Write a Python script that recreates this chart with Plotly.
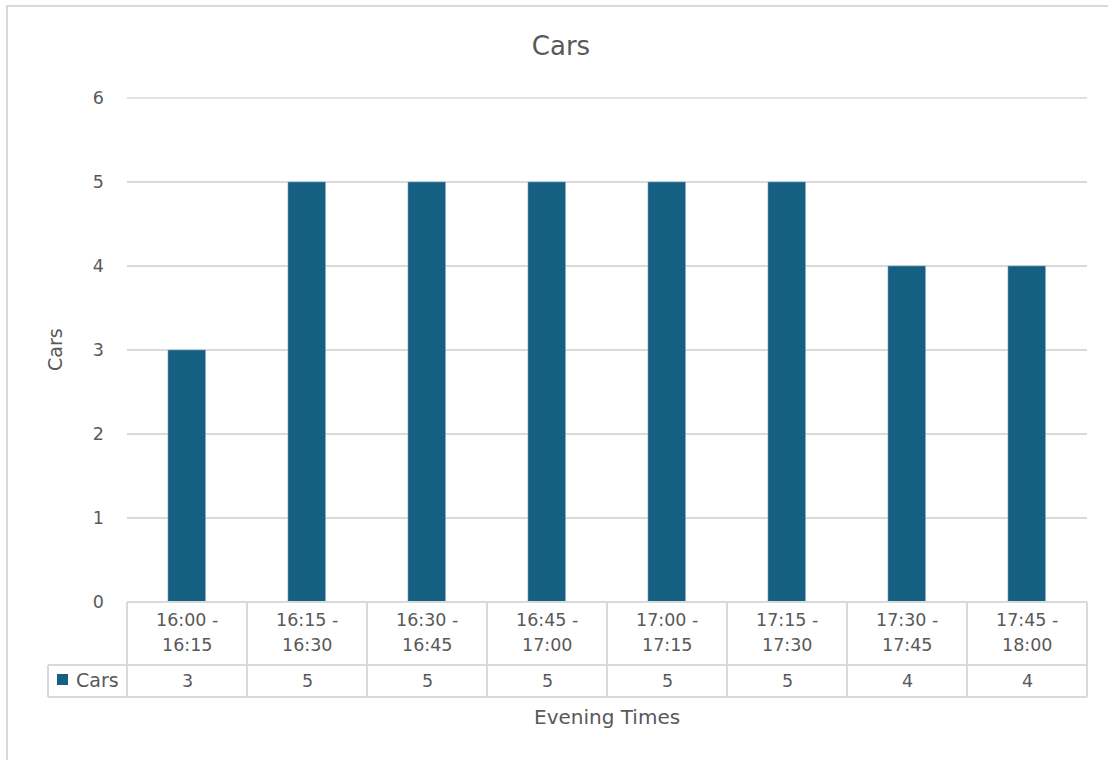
import plotly.graph_objects as go

# ---- data ----
series_name = "Cars"
categories = ["16:00 - 16:15", "16:15 - 16:30", "16:30 - 16:45", "16:45 - 17:00",
              "17:00 - 17:15", "17:15 - 17:30", "17:30 - 17:45", "17:45 - 18:00"]
values = [3, 5, 5, 5, 5, 5, 4, 4]
y_ticks = [0, 1, 2, 3, 4, 5, 6]
title_text = "Cars"
x_title = "Evening Times"
y_title = "Cars"

# ---- style ----
W, H = 1108, 760
L, R, T, B = 127, 21, 98, 158
PW, PH = W - L - R, H - T - B
BAR = "#156082"
GRID = "#D9D9D9"
TXT = "#595959"
FONT = "DejaVu Sans, Verdana, sans-serif"

def px(X):
    return (X - L) / PW

def py(Y):
    return (T + PH - Y) / PH

n = len(categories)
fig = go.Figure()
fig.add_trace(go.Bar(x=list(range(n)), y=values, marker_color=BAR, width=0.317,
                     name=series_name, showlegend=False, hoverinfo="y"))

shapes = []
ann = []
line = dict(color=GRID, width=2)
# outer chart border (top + left visible)
shapes.append(dict(type="rect", xref="paper", yref="paper", x0=px(7), x1=px(W + 20),
                   y0=py(H + 20), y1=py(6), line=dict(color=GRID, width=2), layer="below"))
# top gridline (at the range end, where plotly omits it)
shapes.append(dict(type="line", xref="paper", yref="paper", x0=0, x1=1, y0=1, y1=1,
                   line=dict(color=GRID, width=1.5), layer="below"))
# data table lines
y_top, y_mid, y_bot = 602, 665, 697
x_leg = 48
shapes.append(dict(type="line", xref="paper", yref="paper", x0=0, x1=1, y0=py(y_top), y1=py(y_top), line=line))
for yy in (y_mid, y_bot):
    shapes.append(dict(type="line", xref="paper", yref="paper", x0=px(x_leg), x1=1, y0=py(yy), y1=py(yy), line=line))
shapes.append(dict(type="line", xref="paper", yref="paper", x0=px(x_leg), x1=px(x_leg), y0=py(y_mid), y1=py(y_bot), line=line))
for i in range(n + 1):
    xx = i / n
    shapes.append(dict(type="line", xref="paper", yref="paper", x0=xx, x1=xx, y0=py(y_top), y1=py(y_bot), line=line))
# legend key
shapes.append(dict(type="rect", xref="paper", yref="paper", x0=px(57), x1=px(68), y0=py(685), y1=py(674),
                   fillcolor=BAR, line=dict(width=0)))
ann.append(dict(xref="paper", yref="paper", x=px(74), y=py(680), text=series_name, showarrow=False,
                xanchor="left", yanchor="middle", font=dict(size=19, color=TXT, family=FONT)))

TS = 17.5
for i, (c, v) in enumerate(zip(categories, values)):
    a, b = c.split(" - ")
    ann.append(dict(xref="x", yref="paper", x=i, y=py(620), text=a + " -", showarrow=False,
                    yanchor="middle", font=dict(size=TS, color=TXT, family=FONT)))
    ann.append(dict(xref="x", yref="paper", x=i, y=py(645), text=b, showarrow=False,
                    yanchor="middle", font=dict(size=TS, color=TXT, family=FONT)))
    ann.append(dict(xref="x", yref="paper", x=i, y=py(681), text=str(v), showarrow=False,
                    yanchor="middle", font=dict(size=TS, color=TXT, family=FONT)))

ann.append(dict(xref="paper", yref="paper", x=px(607), y=py(717), text=x_title, showarrow=False,
                xanchor="center", yanchor="middle", font=dict(size=20, color=TXT, family=FONT)))
ann.append(dict(xref="paper", yref="paper", x=px(55), y=0.5, text=y_title, showarrow=False, textangle=-90,
                xanchor="center", yanchor="middle", font=dict(size=19, color=TXT, family=FONT)))

fig.update_layout(
    width=W, height=H,
    margin=dict(l=L, r=R, t=T, b=B, autoexpand=False),
    paper_bgcolor="white", plot_bgcolor="white",
    title=dict(text=title_text, xref="paper", x=px(561), xanchor="center",
               yref="container", y=1 - 46 / H, yanchor="middle",
               font=dict(size=26, color=TXT, family=FONT)),
    xaxis=dict(range=[-0.5, n - 0.5], showticklabels=False, showgrid=False, zeroline=False,
               showline=False, ticks=""),
    yaxis=dict(range=[0, 6], tickvals=y_ticks, showgrid=True, gridcolor=GRID, gridwidth=1.5,
               zeroline=False, showline=False, ticks="", ticklabelstandoff=22,
               tickfont=dict(size=TS, color=TXT, family=FONT)),
    shapes=shapes, annotations=ann, bargap=0,
)
fig.write_html("out.html")
